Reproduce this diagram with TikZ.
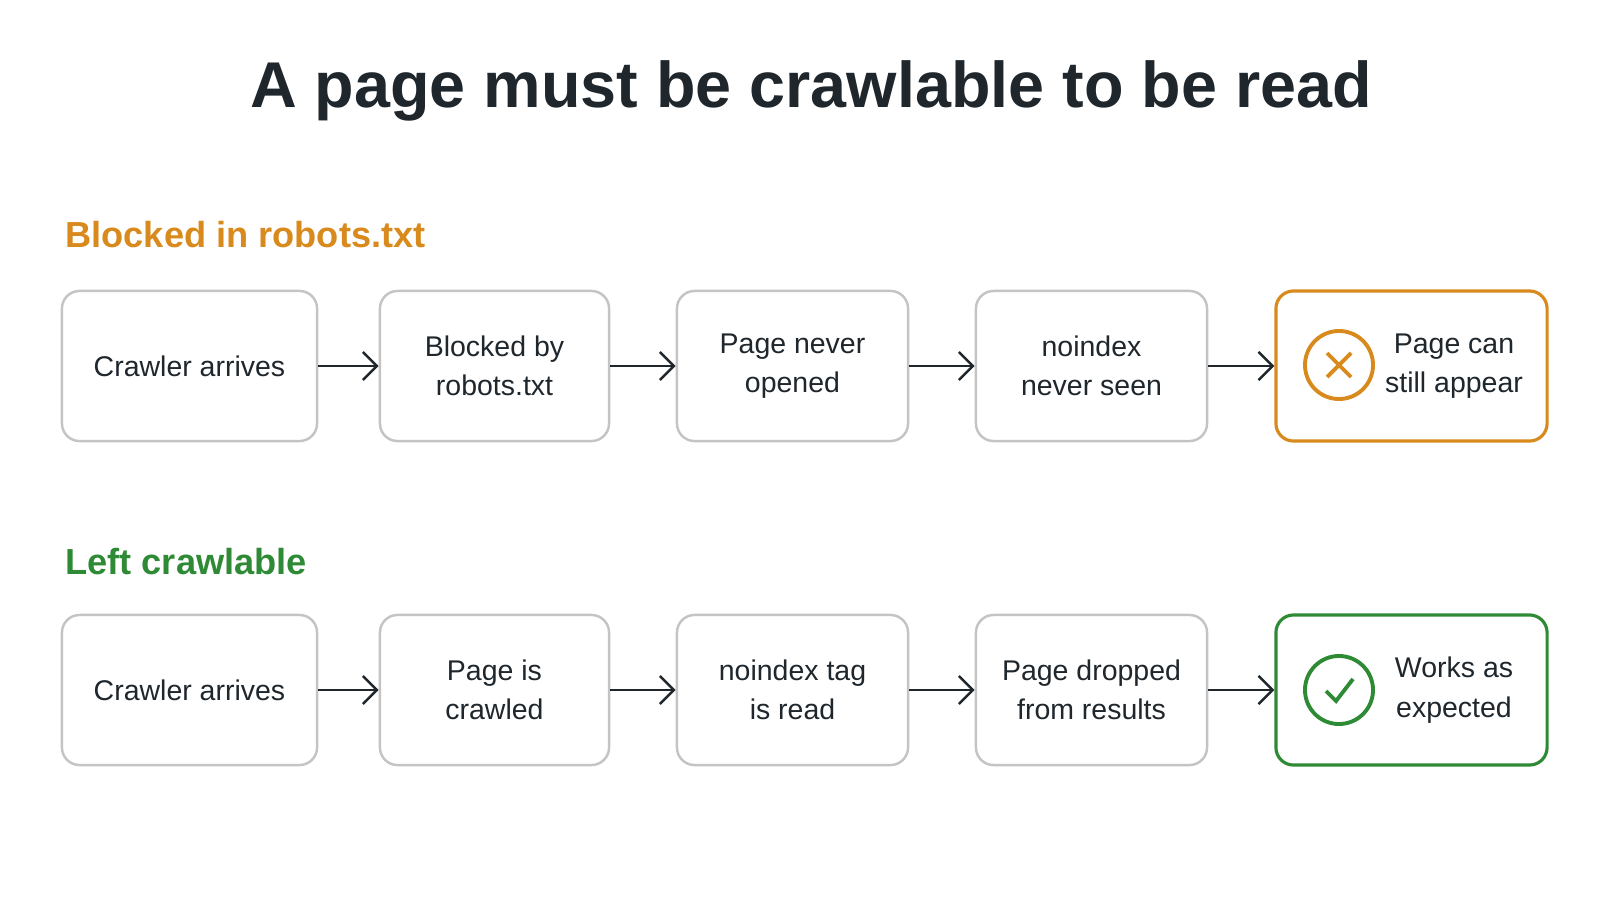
\documentclass[tikz,border=0pt]{standalone}
\usepackage{fontspec}
\setmainfont{Liberation Sans}
\usetikzlibrary{positioning, arrows.meta}
\definecolor{ink}{HTML}{1F272D}
\definecolor{warn}{HTML}{D88A1C}
\definecolor{okay}{HTML}{2F8A35}
\definecolor{edge}{HTML}{C4C4C4}

\begin{document}
\begin{tikzpicture}[x=0.01cm, y=-0.01cm,
stage/.style = {draw=edge, line width=0.7pt, rounded corners=5pt, fill=white,
            minimum height=1.5cm, align=center, text=ink,
            font=\fontsize{8.1}{11.2}\selectfont},
last/.style = {stage, draw=#1, minimum width=2.71cm},
flow/.style = {-{Straight Barb[length=4pt]}, ink, line width=0.7pt},
head/.style = {anchor=west, font=\fontsize{10.3}{13}\selectfont\bfseries}
                ]
    \useasboundingbox (0,0) rectangle (1600,900);
    \node[font=\fontsize{18.4}{22}\selectfont\bfseries, text=ink] at (811,91) (title) {A page must be crawlable to be read};

    % blocked row
    \node[head, text=warn] at (53,235) (hb) {Blocked in robots.txt};
    \node[stage, minimum width=2.55cm] at (189.5,366) (b1) {Crawler arrives};
    \node[stage, minimum width=2.29cm] at (494.5,366) (b2) {Blocked by\\robots.txt};
    \node[stage, minimum width=2.31cm] at (792.5,366) (b3) {Page never\\opened};
    \node[stage, minimum width=2.31cm] at (1091.5,366) (b4) {noindex\\never seen};
    \node[last=warn, line width=0.9pt] at (1411.5,366) (b5) {};
    \node[circle, draw=warn, line width=1.1pt, minimum size=0.68cm] at (1339,365) (bx) {};
    \draw[warn, line width=1.1pt] (1327,353) -- (1351,377) (1327,377) -- (1351,353);
    \node[align=center, text=ink, font=\fontsize{8.1}{11.2}\selectfont] at (1454,366) (bt) {Page can\\still appear};
    \foreach \a/\b in {b1/b2, b2/b3, b3/b4, b4/b5}
        \draw[flow] (\a) -- (\b);

    % crawlable row
    \node[head, text=okay] at (53,562) (hc) {Left crawlable};
    \node[stage, minimum width=2.55cm] at (189.5,690) (c1) {Crawler arrives};
    \node[stage, minimum width=2.29cm] at (494.5,690) (c2) {Page is\\crawled};
    \node[stage, minimum width=2.31cm] at (792.5,690) (c3) {noindex tag\\is read};
    \node[stage, minimum width=2.31cm] at (1091.5,690) (c4) {Page dropped\\from results};
    \node[last=okay, line width=0.9pt] at (1411.5,690) (c5) {};
    \node[circle, draw=okay, line width=1.1pt, minimum size=0.68cm] at (1339,690) (cx) {};
    \draw[okay, line width=1.1pt] (1326,691) -- (1336,701) -- (1353,679);
    \node[align=center, text=ink, font=\fontsize{8.1}{11.2}\selectfont] at (1454,690) (ct) {Works as\\expected};
    \foreach \a/\b in {c1/c2, c2/c3, c3/c4, c4/c5}
        \draw[flow] (\a) -- (\b);
\end{tikzpicture}
\end{document}
